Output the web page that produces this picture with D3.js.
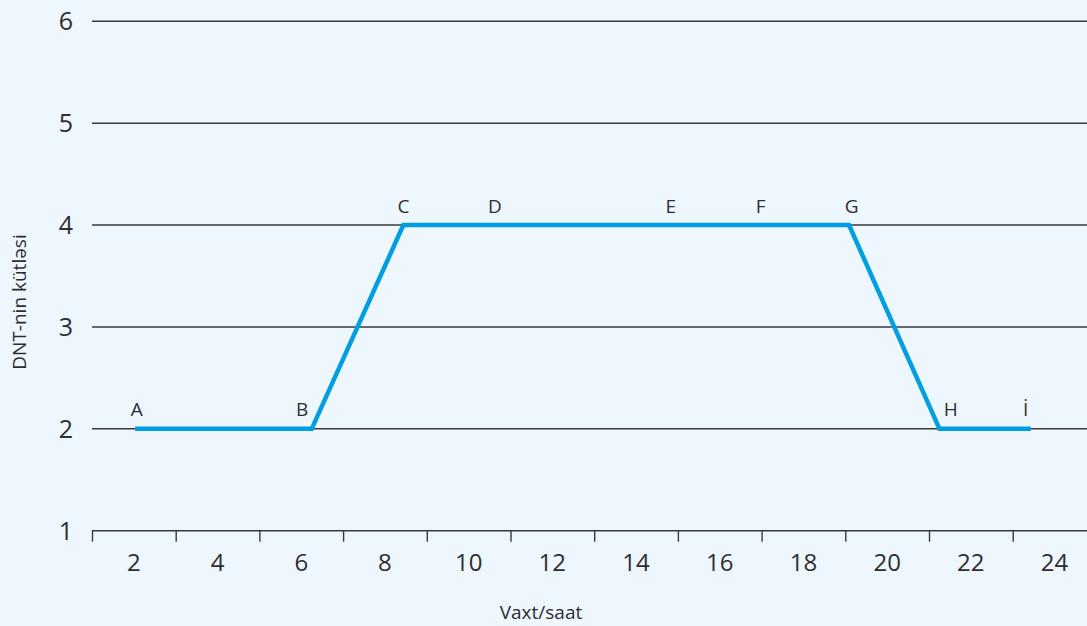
<!DOCTYPE html>
<html>
<head>
<meta charset="utf-8">
<script src="https://cdn.jsdelivr.net/npm/d3@7"></script>
<style>
  html, body { margin: 0; padding: 0; background: #eef6fe; }
  svg { display: block; font-family: "Open Sans", "Noto Sans", sans-serif; }
</style>
</head>
<body>
<svg id="chart" width="1087" height="626"></svg>
<script>
// ---- data ----
const yTicks = [1, 2, 3, 4, 5, 6];
const xTickLabels = [2, 4, 6, 8, 10, 12, 14, 16, 18, 20, 22, 24];
const xTickMarks = [1, 3, 5, 7, 9, 11, 13, 15, 17, 19, 21, 23];
const lineHours = [2.03, 6.25, 8.44, 19.09, 21.25, 23.43];
const lineMass = [2, 2, 4, 4, 2, 2];
const pointLetters = ["A", "B", "C", "D", "E", "F", "G", "H", "İ"];
const pointHours = [2.07, 6.02, 8.44, 10.63, 14.83, 16.98, 19.15, 21.52, 23.31];
const pointMass = [2, 2, 4, 4, 4, 4, 4, 2, 2];
const xTitle = "Vaxt/saat";
const yTitle = "DNT-nin kütləsi";

// ---- drawing ----
const svg = d3.select("#chart");
const W = 1087, H = 626;
const x = d3.scaleLinear().domain([1, 25]).range([92, 92 + 24 * 41.85]);
const y = d3.scaleLinear().domain([1, 6]).range([530.7, 21.3]);
const ink = "#2e2e2e";

// gridlines
svg.append("g").selectAll("line").data(yTicks.filter(d => d > 1)).join("line")
  .attr("x1", x(1)).attr("x2", W + 20)
  .attr("y1", d => y(d)).attr("y2", d => y(d))
  .attr("stroke", "#3a3a3a").attr("stroke-width", 1.4);

// y labels
svg.append("g").selectAll("text").data(yTicks).join("text")
  .attr("x", 73).attr("y", d => y(d)).attr("dy", "0.36em")
  .attr("text-anchor", "end").attr("font-size", 25).attr("fill", ink)
  .text(d => d);

// x axis: line + tick marks
const xAxis = d3.axisBottom(x).tickValues(xTickMarks).tickSize(11).tickFormat("");
const gx = svg.append("g").attr("transform", `translate(0,${y(1)})`).call(xAxis);
gx.select(".domain").attr("stroke", "#3a3a3a").attr("stroke-width", 1.4).attr("d", `M${x(1)},0H${W + 20}`);
gx.selectAll(".tick line").attr("stroke", "#3a3a3a").attr("stroke-width", 1.4);

// x labels centered between tick marks
svg.append("g").selectAll("text").data(xTickLabels).join("text")
  .attr("x", d => x(d)).attr("y", 570.5)
  .attr("text-anchor", "middle").attr("font-size", 24).attr("fill", ink)
  .text(d => d);

// line
const pts = lineHours.map((h, i) => [h, lineMass[i]]);
svg.append("path").datum(pts)
  .attr("d", d3.line().x(d => x(d[0])).y(d => y(d[1])))
  .attr("fill", "none").attr("stroke", "#009fe3").attr("stroke-width", 4.5);

// point letters
svg.append("g").selectAll("text").data(pointLetters).join("text")
  .attr("x", (d, i) => x(pointHours[i]))
  .attr("y", (d, i) => y(pointMass[i]) - 12.5)
  .attr("text-anchor", "middle").attr("font-size", 19).attr("fill", ink)
  .text(d => d);

// axis titles
svg.append("text").attr("x", 541).attr("y", 619)
  .attr("text-anchor", "middle").attr("font-size", 19).attr("fill", ink)
  .text(xTitle);
svg.append("text").attr("transform", "translate(26,302) rotate(-90)")
  .attr("text-anchor", "middle").attr("font-size", 19).attr("fill", ink)
  .text(yTitle);
</script>
</body>
</html>
